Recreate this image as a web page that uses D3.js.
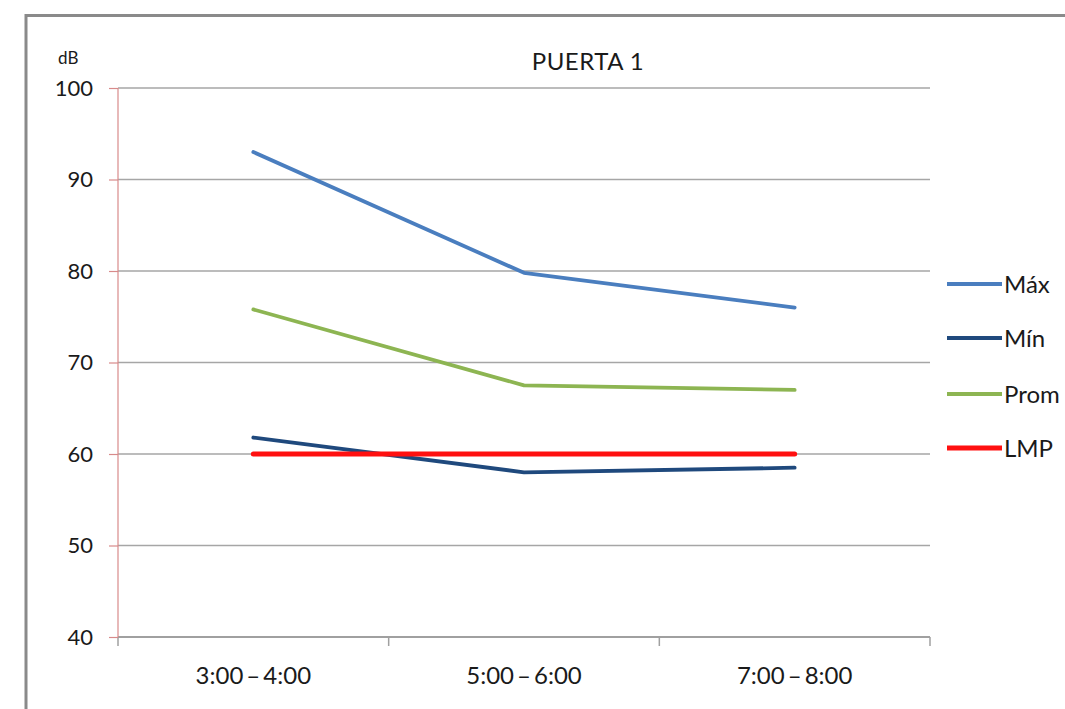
<!DOCTYPE html>
<html><head><meta charset="utf-8">
<script src="https://cdn.jsdelivr.net/npm/d3@7"></script>
<style>
html,body{margin:0;padding:0;background:#fff;}
svg{display:block;}
text{font-family:Lato,"Open Sans",sans-serif;fill:#1a1a1a;}
</style></head>
<body><svg id="c" width="1065" height="709"></svg>
<script>
const categories = ["3:00\u2009–\u20094:00", "5:00\u2009–\u20096:00", "7:00\u2009–\u20098:00"];
const maxValues  = [93.0, 79.8, 76.0];
const minValues  = [61.8, 58.0, 58.5];
const promValues = [75.8, 67.5, 67.0];
const lmpValues  = [60, 60, 60];
const yTicks     = [40, 50, 60, 70, 80, 90, 100];
const seriesNames = ["Máx", "Mín", "Prom", "LMP"];
const seriesColors = ["#4a7ebf", "#1f497d", "#8db552", "#ff1010"];
const seriesWidths = [3.8, 3.8, 3.8, 5];
const seriesData = [maxValues, minValues, promValues, lmpValues];

const svg = d3.select("#c");
const L = 118, R = 930, T = 88, B = 637;

// outer frame
svg.append("path").attr("d", `M26,709 L26,15.5 L1065,15.5`).attr("fill","none")
  .attr("stroke","#8a8a8a").attr("stroke-width",3);

const x = d3.scaleBand().domain(categories).range([L, R]).paddingInner(0).paddingOuter(0);
const y = d3.scaleLinear().domain([40, 100]).range([B, T]);

// gridlines
svg.append("g").selectAll("line").data(yTicks.filter(d => d > 40)).join("line")
  .attr("x1", L).attr("x2", R).attr("y1", d => y(d)).attr("y2", d => y(d))
  .attr("stroke", "#a6a6a6").attr("stroke-width", 1.5);

// x axis
const xa = svg.append("g").attr("transform", `translate(0,${B})`)
  .call(d3.axisBottom(x).tickSize(0).tickPadding(30));
xa.select(".domain").attr("stroke", "#a0a0a0").attr("stroke-width", 2).attr("d", `M${L},0H${R}`);
xa.selectAll("text").attr("font-size", 24).attr("fill", "#1a1a1a").style("font-family","Lato");
// category boundary ticks
const bounds = categories.map(c => x(c)).concat([x(categories[categories.length-1]) + x.bandwidth()]);
svg.append("g").selectAll("line").data(bounds).join("line")
  .attr("x1", d => d).attr("x2", d => d).attr("y1", B).attr("y2", B + 9)
  .attr("stroke", "#a0a0a0").attr("stroke-width", 1.5);

// y axis
const ya = svg.append("g").attr("transform", `translate(${L},0)`)
  .call(d3.axisLeft(y).tickValues(yTicks).tickSize(9).tickPadding(16));
ya.select(".domain").attr("stroke", "#d88a8a").attr("stroke-width", 1.2).attr("d", `M0,${T}V${B}`);
ya.selectAll(".tick line").attr("stroke", "#d88a8a").attr("stroke-width", 1.2);
ya.selectAll("text").attr("font-size", 22).attr("fill", "#1a1a1a").style("font-family","Lato");

// unit
svg.append("text").attr("x", 58).attr("y", 64).attr("font-size", 17).text("dB");
// title
svg.append("text").attr("x", 588).attr("y", 70).attr("text-anchor", "middle")
  .attr("font-size", 24).attr("letter-spacing", 0.5).text("PUERTA 1");

// lines
const cx = c => x(c) + x.bandwidth() / 2;
seriesData.forEach((vals, i) => {
  const line = d3.line().x((d, j) => cx(categories[j])).y(d => y(d));
  svg.append("path").datum(vals).attr("d", line).attr("fill", "none")
    .attr("stroke", seriesColors[i]).attr("stroke-width", seriesWidths[i])
    .attr("stroke-linejoin", "round").attr("stroke-linecap", "round");
});

// legend
const legY = [284, 338, 394, 448];
seriesNames.forEach((n, i) => {
  svg.append("line").attr("x1", 947).attr("x2", 1002).attr("y1", legY[i]).attr("y2", legY[i])
    .attr("stroke", seriesColors[i]).attr("stroke-width", i === 3 ? 5 : 4);
  svg.append("text").attr("x", 1004).attr("y", legY[i]).attr("dy", "0.36em")
    .attr("font-size", 24).text(n);
});
</script></body></html>
